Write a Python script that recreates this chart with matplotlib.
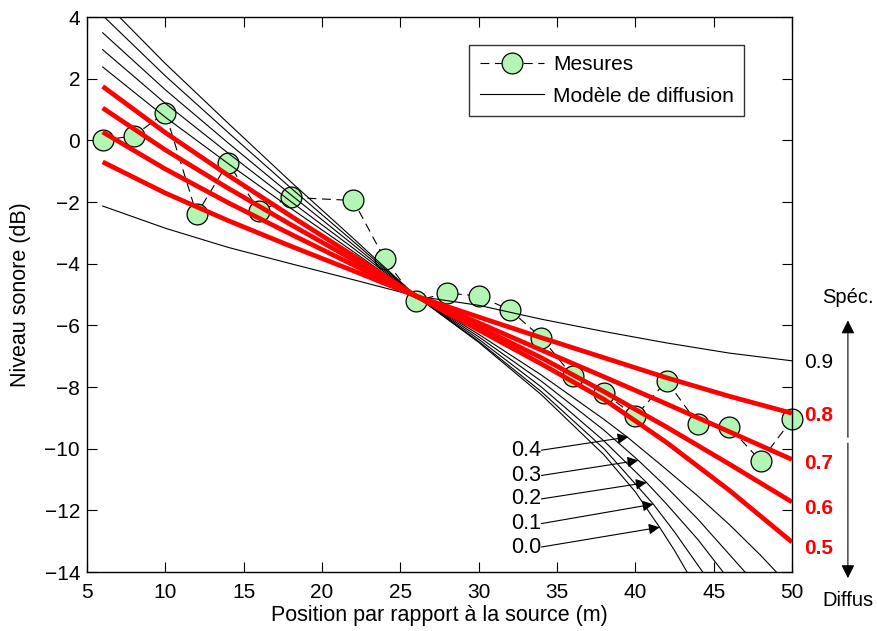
import matplotlib
matplotlib.use("Agg")
import matplotlib.pyplot as plt

plt.rcParams['font.family'] = ['Liberation Sans', 'DejaVu Sans']

# ---- measurements ----
meas_x = [6, 8, 10, 12, 14, 16, 18, 22, 24, 26, 28, 30, 32, 34, 36, 38, 40, 42, 44, 46, 48, 50]
meas_y = [0.0, 0.15, 0.9, -2.4, -0.72, -2.3, -1.85, -1.95, -3.85, -5.2, -4.95, -5.05,
          -5.5, -6.4, -7.65, -8.2, -8.95, -7.8, -9.2, -9.3, -10.4, -9.05]

# ---- diffusion model curves (full grid for 0.5..0.9) ----
x_model = [6, 10, 14, 18, 22, 26, 30, 34, 38, 42, 46, 50]
level_09 = [-2.13, -2.85, -3.47, -4.0, -4.52, -5.05, -5.35, -5.8, -6.2, -6.57, -6.9, -7.15]
level_08 = [-0.70, -1.71, -2.6, -3.43, -4.23, -5.05, -5.73, -6.4, -7.05, -7.7, -8.3, -8.85]
level_07 = [0.27, -0.93, -2.02, -3.04, -4.04, -5.05, -5.92, -6.8, -7.67, -8.55, -9.45, -10.35]
level_06 = [1.05, -0.31, -1.55, -2.73, -3.88, -5.05, -6.05, -7.05, -8.15, -9.3, -10.5, -11.73]
level_05 = [1.75, 0.25, -1.13, -2.45, -3.74, -5.05, -6.15, -7.25, -8.4, -9.8, -11.35, -13.03]

# ---- curves 0.0..0.4 (end where they leave the axes) ----
x_04 = [6, 10, 14, 18, 22, 26, 30, 34, 38, 39.55, 42, 44, 46, 48, 49]
level_04 = [2.38, 0.75, -0.75, -2.2, -3.61, -5.05, -6.29, -7.61, -9.05, -9.65, -10.68,
            -11.54, -12.46, -13.46, -14.0]
x_03 = [6, 10, 14, 18, 22, 26, 30, 34, 38, 40.19, 42, 44, 46, 47]
level_03 = [2.94, 1.2, -0.41, -1.98, -3.5, -5.05, -6.37, -7.81, -9.4, -10.38, -11.25,
            -12.29, -13.43, -14.0]
x_02 = [6, 10, 14, 18, 22, 26, 30, 34, 38, 40.72, 42, 44, 45.6]
level_02 = [3.49, 1.64, -0.08, -1.76, -3.39, -5.05, -6.45, -8.0, -9.75, -11.1, -11.8,
            -12.95, -14.0]
x_01 = [6, 10, 14, 18, 22, 26, 30, 34, 38, 41.15, 42.5, 44.3]
level_01 = [4.05, 2.09, 0.26, -1.54, -3.28, -5.05, -6.52, -8.15, -10.0, -11.8, -12.7, -14.0]
x_00 = [6, 10, 14, 18, 22, 26, 30, 34, 38, 40, 41.55, 42.5, 43.3]
level_00 = [4.55, 2.49, 0.56, -1.34, -3.18, -5.05, -6.55, -8.25, -10.2, -11.4, -12.55,
            -13.3, -14.0]

# ---- labels ----
black_labels = ['0.4', '0.3', '0.2', '0.1', '0.0']
label_y = [-10.05, -10.87, -11.63, -12.43, -13.19]
arrow_tip_x = [39.55, 40.19, 40.72, 41.15, 41.55]
arrow_tip_y = [-9.62, -10.38, -11.1, -11.8, -12.55]
red_labels = ['0.8', '0.7', '0.6', '0.5']
red_label_y = [-8.92, -10.47, -11.94, -13.24]

fig = plt.figure(figsize=(8.79, 6.31), dpi=100)
ax = fig.add_axes([0.099, 0.0935, 0.802, 0.8795])

green = '#b3f5b3'
meas_line, = ax.plot(meas_x, meas_y, linestyle=(0, (8, 5)), color='black', linewidth=0.8,
                     marker='o', markersize=15, markerfacecolor=green,
                     markeredgecolor='black', markeredgewidth=0.9, zorder=2,
                     label='Mesures', clip_on=False)

model_line, = ax.plot(x_model, level_09, color='black', linewidth=0.8, zorder=3,
                      label='Modèle de diffusion')
for xs, ys in [(x_04, level_04), (x_03, level_03), (x_02, level_02),
               (x_01, level_01), (x_00, level_00)]:
    ax.plot(xs, ys, color='black', linewidth=0.8, zorder=3)
for ys in [level_08, level_07, level_06, level_05]:
    ax.plot(x_model, ys, color='red', linewidth=3.4, zorder=4, solid_capstyle='butt')

ax.set_xlim(5, 50)
ax.set_ylim(-14, 4)
ax.set_xticks(range(5, 51, 5))
ax.set_yticks(range(-14, 5, 2))
ax.tick_params(direction='in', top=True, right=True, labelsize=15, length=7, width=0.8)
ax.tick_params(axis='x', pad=8)
ax.tick_params(axis='y', pad=5)
for s in ax.spines.values():
    s.set_linewidth(1.0)

ax.set_xlabel('Position par rapport à la source (m)', fontsize=15.5, labelpad=2)
ax.set_ylabel('Niveau sonore (dB)', fontsize=15.5, labelpad=10)

leg = ax.legend(handles=[meas_line, model_line], loc='upper right',
                bbox_to_anchor=(0.932, 0.95), borderaxespad=0, fontsize=15,
                frameon=True, fancybox=False, edgecolor='black', handlelength=3.1,
                borderpad=0.5, labelspacing=0.6, handletextpad=0.4)
leg.get_frame().set_linewidth(1.0)

# black labels with arrows
for lab, ly, tx, ty in zip(black_labels, label_y, arrow_tip_x, arrow_tip_y):
    ax.annotate('', xy=(tx, ty), xytext=(34.0, ly),
                arrowprops=dict(arrowstyle='-|>', color='black', lw=0.8,
                                mutation_scale=16, shrinkA=0, shrinkB=0), zorder=5)
    ax.text(34.0, ly, lab, ha='right', va='center', fontsize=15.5)

# right-side labels
ax.text(50.75, -7.2, '0.9', ha='left', va='center', fontsize=15, clip_on=False)
for lab, ly in zip(red_labels, red_label_y):
    ax.text(50.75, ly, lab, ha='left', va='center', fontsize=15, color='red',
            fontweight='bold', clip_on=False)

# specular / diffuse arrow
ax.annotate('', xy=(53.57, -5.84), xytext=(53.57, -9.63), annotation_clip=False,
            arrowprops=dict(arrowstyle='-|>', color='black', lw=0.8,
                            mutation_scale=20, shrinkA=0, shrinkB=0))
ax.annotate('', xy=(53.57, -14.2), xytext=(53.57, -9.82), annotation_clip=False,
            arrowprops=dict(arrowstyle='-|>', color='black', lw=0.8,
                            mutation_scale=20, shrinkA=0, shrinkB=0))
ax.text(53.57, -5.1, 'Spéc.', ha='center', va='center', fontsize=14.5, clip_on=False)
fig.text(848 / 879, 1 - 600 / 631, 'Diffus', ha='center', va='center', fontsize=14.5)

fig.savefig('out.png', dpi=100)
